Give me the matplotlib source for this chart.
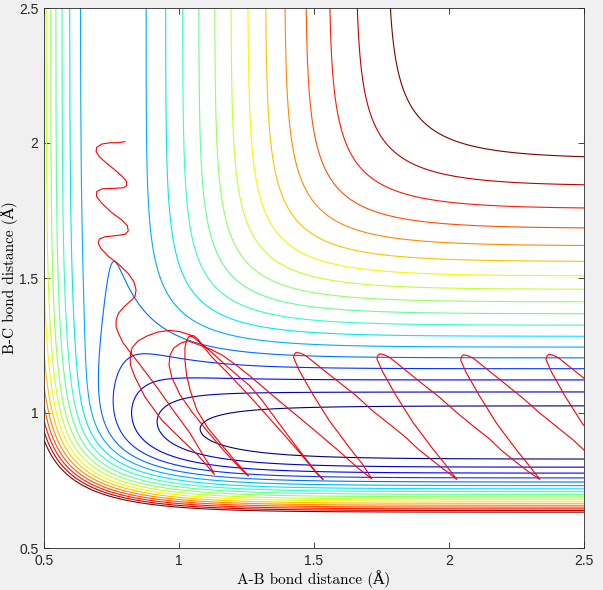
import numpy as np
import matplotlib.pyplot as plt

# LEPS surface for A + BC -> AB + C with A = H, B = H, C = F (energies in kcal/mol)
De_hh, re_hh, beta_hh, sato_hh = 108.8, 0.742, 1.98, 0.195
De_hf, re_hf, beta_hf, sato_hf = 141.2, 0.917, 2.26, 0.182

levels = [-134.4, -128.05, -121.7, -115.35, -109.0, -102.65, -96.3, -89.95, -83.6,
          -77.25, -70.9, -64.55, -58.2, -51.85, -45.5, -39.15, -32.8, -26.45]

# trajectory (A-B, B-C distances in angstrom)
traj_ab = [0.800, 0.775, 0.744, 0.714, 0.695, 0.693, 0.705, 0.732, 0.763, 0.791, 0.806, 0.806,
           0.794, 0.757, 0.714, 0.695, 0.695, 0.714, 0.751, 0.788, 0.809, 0.812, 0.800, 0.769,
           0.726, 0.705, 0.701, 0.710, 0.738, 0.775, 0.812, 0.833, 0.841, 0.837, 0.825, 0.796,
           0.776, 0.767, 0.767, 0.776, 0.794, 0.856, 0.917, 0.978, 1.041, 1.089, 1.115, 1.131,
           1.070, 1.004, 0.936, 0.874, 0.837, 0.820, 0.819, 0.826, 0.848, 0.881, 0.922, 0.967,
           1.004, 1.041, 1.078, 1.115, 1.152, 1.189, 1.226, 1.263, 1.307, 1.356, 1.411, 1.467,
           1.507, 1.534,
           1.500, 1.448, 1.393, 1.337, 1.281, 1.226, 1.170, 1.122, 1.089, 1.070, 1.053, 1.037,
           1.028, 1.022, 1.022, 1.028, 1.041, 1.066, 1.107, 1.164, 1.211, 1.241, 1.257,
           1.226, 1.170, 1.107, 1.048, 1.004, 0.974, 0.963, 0.967, 0.981, 1.007, 1.033, 1.053,
           1.078, 1.115, 1.159, 1.207, 1.263, 1.319, 1.374, 1.448, 1.522, 1.596, 1.663, 1.700, 1.714,
           1.680, 1.631, 1.557, 1.495, 1.446, 1.424, 1.428, 1.433, 1.448, 1.470, 1.532, 1.594,
           1.656, 1.717, 1.779, 1.841, 1.886, 1.937, 1.981, 2.007, 2.029,
           1.990, 1.940, 1.866, 1.804, 1.755, 1.733, 1.737, 1.743, 1.757, 1.780, 1.841, 1.903,
           1.965, 2.027, 2.088, 2.150, 2.196, 2.246, 2.291, 2.317, 2.337,
           2.300, 2.250, 2.176, 2.115, 2.065, 2.043, 2.047, 2.053, 2.068, 2.090, 2.152, 2.213,
           2.275, 2.337, 2.399, 2.460, 2.506, 2.557, 2.601, 2.627, 2.646,
           2.616, 2.566, 2.492, 2.430, 2.381, 2.359, 2.363, 2.369, 2.383, 2.406, 2.467, 2.529, 2.591]
traj_bc = [2.005, 2.001, 2.001, 1.996, 1.984, 1.968, 1.949, 1.925, 1.900, 1.875, 1.857, 1.842,
           1.834, 1.832, 1.830, 1.820, 1.801, 1.777, 1.742, 1.715, 1.693, 1.674, 1.662, 1.657,
           1.653, 1.644, 1.629, 1.610, 1.581, 1.552, 1.517, 1.486, 1.456, 1.431, 1.419, 1.393,
           1.370, 1.344, 1.319, 1.294, 1.258, 1.178, 1.097, 1.011, 0.925, 0.844, 0.804, 0.773,
           0.844, 0.907, 0.974, 1.059, 1.133, 1.178, 1.207, 1.241, 1.267, 1.285, 1.300, 1.306,
           1.301, 1.289, 1.261, 1.230, 1.196, 1.163, 1.131, 1.100, 1.048, 0.981, 0.907, 0.833,
           0.781, 0.754,
           0.789, 0.852, 0.915, 0.978, 1.041, 1.100, 1.159, 1.207, 1.248, 1.274, 1.287, 1.283,
           1.270, 1.241, 1.196, 1.141, 1.085, 1.011, 0.944, 0.875, 0.819, 0.785, 0.767,
           0.796, 0.856, 0.930, 1.004, 1.067, 1.130, 1.178, 1.215, 1.241, 1.259, 1.267, 1.260,
           1.251, 1.237, 1.215, 1.181, 1.137, 1.089, 1.042, 0.981, 0.919, 0.856, 0.796, 0.767, 0.756,
           0.810, 0.872, 0.971, 1.070, 1.156, 1.206, 1.219, 1.224, 1.222, 1.212, 1.162, 1.113,
           1.064, 1.008, 0.959, 0.909, 0.866, 0.826, 0.791, 0.772, 0.754,
           0.805, 0.867, 0.966, 1.064, 1.151, 1.200, 1.213, 1.219, 1.217, 1.206, 1.157, 1.107,
           1.058, 1.003, 0.953, 0.904, 0.860, 0.820, 0.785, 0.767, 0.754,
           0.801, 0.863, 0.962, 1.060, 1.147, 1.196, 1.209, 1.215, 1.213, 1.203, 1.153, 1.104,
           1.054, 0.999, 0.949, 0.900, 0.857, 0.817, 0.781, 0.763, 0.754,
           0.803, 0.865, 0.964, 1.062, 1.149, 1.198, 1.211, 1.217, 1.215, 1.204, 1.155, 1.106, 1.056]


def pair_terms(r, De, re, beta, sato):
    e = np.exp(-beta * (r - re))
    singlet = De * (e * e - 2 * e)
    triplet = 0.5 * De * (e * e + 2 * e)
    q = 0.5 * (singlet * (1 + sato) + triplet * (1 - sato)) / (1 + sato)
    j = 0.5 * (singlet * (1 + sato) - triplet * (1 - sato)) / (1 + sato)
    return q, j


def leps(rab, rbc):
    rac = rab + rbc
    qab, jab = pair_terms(rab, De_hh, re_hh, beta_hh, sato_hh)
    qbc, jbc = pair_terms(rbc, De_hf, re_hf, beta_hf, sato_hf)
    qac, jac = pair_terms(rac, De_hf, re_hf, beta_hf, sato_hf)
    exch = 0.5 * ((jab - jbc) ** 2 + (jbc - jac) ** 2 + (jac - jab) ** 2)
    return qab + qbc + qac - np.sqrt(exch)


r = np.linspace(0.5, 2.5, 500)
RAB, RBC = np.meshgrid(r, r)
V = leps(RAB, RBC)

fig = plt.figure(figsize=(6.03, 5.90), dpi=100, facecolor='#f0f0f0')
ax = fig.add_axes([44 / 603, 42 / 590, 540 / 603, 540 / 590])
ax.contour(RAB, RBC, V, levels=levels, cmap='jet', linewidths=0.8)
ax.plot(traj_ab, traj_bc, color='red', linewidth=0.8)

ax.set_xlim(0.5, 2.5)
ax.set_ylim(0.5, 2.5)
ax.set_xticks([0.5, 1, 1.5, 2, 2.5])
ax.set_yticks([0.5, 1, 1.5, 2, 2.5])
ax.set_xticklabels(['0.5', '1', '1.5', '2', '2.5'], family='Liberation Sans', fontsize=10)
ax.set_yticklabels(['0.5', '1', '1.5', '2', '2.5'], family='Liberation Sans', fontsize=10)
ax.tick_params(direction='in', top=True, right=True, length=4, width=0.6,
               colors='#262626', pad=4)
for s in ax.spines.values():
    s.set_color('#262626')
    s.set_linewidth(0.6)

ax.set_xlabel('A-B bond distance (Å)', family=['cmr10', 'DejaVu Serif'], fontsize=11, labelpad=2)
ax.set_ylabel('B-C bond distance (Å)', family=['cmr10', 'DejaVu Serif'], fontsize=11, labelpad=1)

fig.savefig('out.png', dpi=100, facecolor=fig.get_facecolor())
